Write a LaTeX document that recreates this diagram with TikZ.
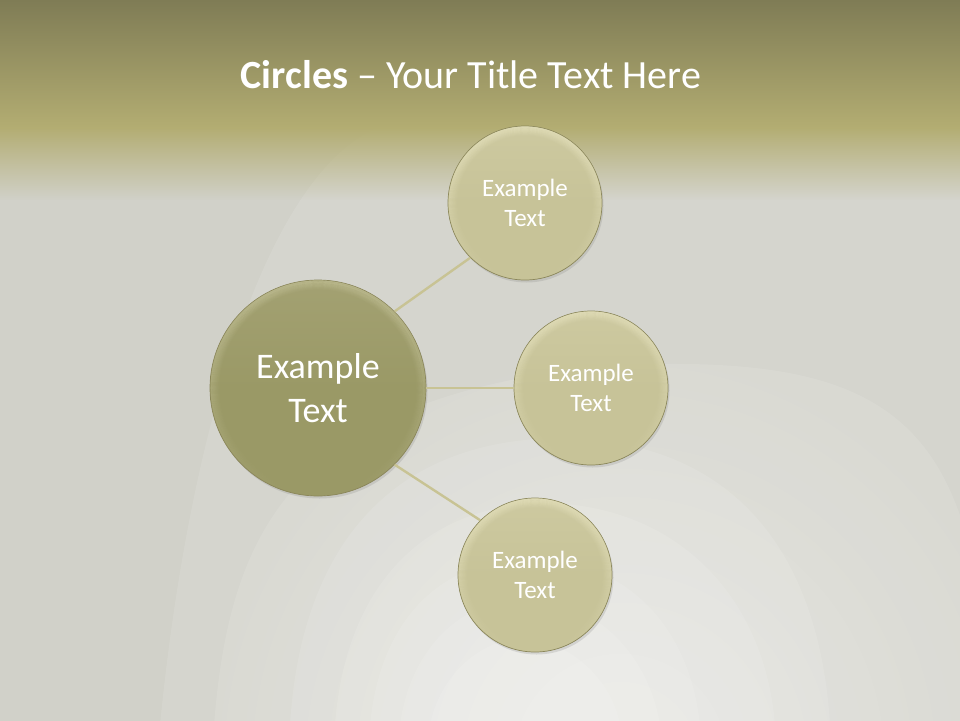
\documentclass[tikz,border=0pt]{standalone}
\usepackage{fontspec}
\setmainfont{Carlito}
\usetikzlibrary{shadows,fadings}
\definecolor{hdrtop}{HTML}{7D7A54}
\definecolor{hdrbot}{HTML}{B3AD72}
\definecolor{bggray}{HTML}{D1D1C9}
\definecolor{bigbase}{HTML}{9A9966}
\definecolor{bigtop}{HTML}{A3A172}
\definecolor{bigrim}{HTML}{C2C096}
\definecolor{smbase}{HTML}{C7C398}
\definecolor{smtop}{HTML}{CDC9A0}
\definecolor{smrim}{HTML}{E6E2BE}
\definecolor{rimcol}{HTML}{8A865A}
\definecolor{linkcol}{HTML}{C8C394}
\tikzfading[name=glowfade, inner color=transparent!0, outer color=transparent!100]
\tikzset{
  bigcirc/.style={circle,minimum size=216pt,inner sep=0pt,draw=rimcol,line width=0.7pt,
    top color=bigtop,bottom color=bigbase,middle color=bigbase,
    drop shadow={shadow xshift=1.5pt,shadow yshift=-2.5pt,opacity=0.22}},
  smcirc/.style={circle,minimum size=154pt,inner sep=0pt,draw=rimcol,line width=0.7pt,
    top color=smtop,bottom color=smbase,middle color=smbase,
    drop shadow={shadow xshift=1.5pt,shadow yshift=-2.5pt,opacity=0.22}},
  bigtext/.style={text=white,font=\fontsize{36}{44}\selectfont,align=center},
  smtext/.style={text=white,font=\fontsize{25}{30}\selectfont,align=center},
  linkline/.style={draw=linkcol,line width=2.4pt},
  archA/.style={fill=white,fill opacity=0.10,draw=none}
}
\newcommand{\bevelring}[3]{%
  \foreach \i in {1,...,9}{%
    \draw[#3,line width=1.1pt,opacity={0.75*(1-\i/10)},path fading=south]
      (#1.center) circle ({#2-\i*1.0});
  }%
}
\begin{document}
\begin{tikzpicture}[x=1pt,y=-1pt]
\useasboundingbox (0,0) rectangle (960,720);
\begin{scope}
\clip (0,0) rectangle (960,720);
% background
\fill[bggray] (-5,-5) rectangle (965,725);
\fill[white,opacity=0.35,path fading=glowfade] (620,760) circle (420);
% faint tunnel arches
\fill[archA] (160,725) .. controls (190,420) and (270,170) .. (380,127) -- (975,127) -- (975,725) -- cycle;
\fill[archA] (214,725) .. controls (230,520) and (300,400) .. (600,366) .. controls (900,350) and (980,420) .. (990,725) -- cycle;
\fill[archA] (290,725) .. controls (300,560) and (380,440) .. (560,438) .. controls (740,440) and (820,560) .. (830,725) -- cycle;
\fill[archA] (335,725) .. controls (345,590) and (420,505) .. (545,503) .. controls (680,505) and (765,600) .. (775,725) -- cycle;
\fill[archA] (370,725) .. controls (380,620) and (440,560) .. (530,558) .. controls (630,560) and (690,630) .. (700,725) -- cycle;
\fill[archA] (400,725) .. controls (410,650) and (460,600) .. (525,598) .. controls (600,600) and (650,660) .. (660,725) -- cycle;
\fill[archA] (430,725) .. controls (440,675) and (480,640) .. (522,638) .. controls (570,640) and (612,680) .. (620,725) -- cycle;
% header
\shade[top color=hdrtop,bottom color=hdrbot] (-5,-5) rectangle (975,128);
\fill[hdrbot,path fading=south] (-5,127) rectangle (975,200);
\end{scope}
% title
\node (title) at (471,75) {\color{white}\fontsize{40}{48}\selectfont\textbf{Circles} -- Your Title Text Here};
% circles
\node[bigcirc] (c0) at (318,388) {};
\node[smcirc] (c1) at (525,203) {};
\node[smcirc] (c2) at (591,388) {};
\node[smcirc] (c3) at (535,575) {};
\bevelring{c0}{108}{bigrim}
\bevelring{c1}{77}{smrim}
\bevelring{c2}{77}{smrim}
\bevelring{c3}{77}{smrim}
\node[bigtext] (t0) at (c0.center) {Example\\Text};
\node[smtext] (t1) at (c1.center) {Example\\Text};
\node[smtext] (t2) at (c2.center) {Example\\Text};
\node[smtext] (t3) at (c3.center) {Example\\Text};
% connectors
\path[linkline] (c0.45) -- (c1.225);
\path[linkline] (c0.east) -- (c2.west);
\path[linkline] (c0.-45) -- (c3.135);
\end{tikzpicture}
\end{document}
